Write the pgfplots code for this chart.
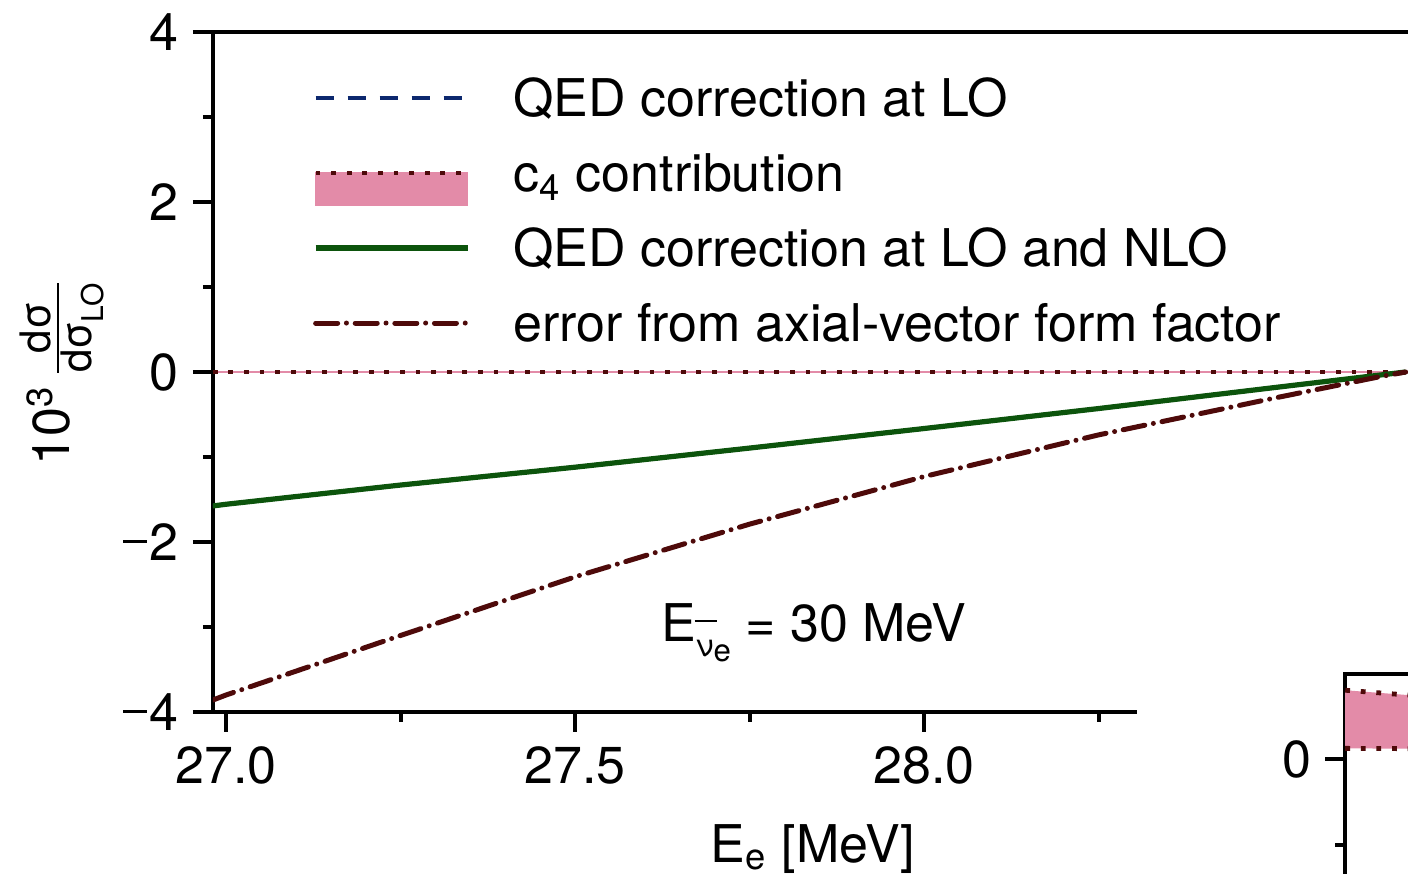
\documentclass[border=0pt]{standalone}
\usepackage{fontspec}
\setmainfont{TeX Gyre Heros}
\usepackage{amsmath}
\usepackage{pgfplots}
\usepackage{pgfplotstable}
\pgfplotsset{compat=1.18}
\definecolor{qedblue}{RGB}{12,40,110}
\definecolor{nlogreen}{RGB}{12,84,12}
\definecolor{c4brown}{RGB}{78,10,10}
\definecolor{c4pink}{RGB}{227,139,168}
\tikzset{
  dotline/.style={c4brown, line width=1.2pt, dash pattern=on 1.2pt off 2.7pt},
  dashline/.style={qedblue, line width=1pt, dash pattern=on 4.5pt off 3.5pt},
  nloline/.style={nlogreen, line width=1.3pt},
  ddline/.style={c4brown, line width=1.25pt, line cap=round, dash pattern=on 5.5pt off 2.2pt on 0pt off 2.2pt},
}
\newcommand{\fs}{\fontsize{13}{15.6}\selectfont}
\newcommand{\fr}{\fontsize{10.5}{12}\selectfont}
\newcommand{\mi}{\raisebox{4.3pt}{\rule{5.8pt}{0.8pt}}\hspace{0.8pt}}

\pgfplotstableread{
x y
26.981 -1.576
27.0 -1.556
27.25 -1.33
27.5 -1.12
27.75 -0.895
28.0 -0.665
28.25 -0.43
28.5 -0.185
28.69 0
}\qedlo
\pgfplotstableread{
x y
26.981 -1.576
27.0 -1.556
27.25 -1.33
27.5 -1.12
27.75 -0.895
28.0 -0.665
28.25 -0.43
28.5 -0.185
28.69 0
}\qednlo
\pgfplotstableread{
x y
26.981 -3.86
27.0 -3.80
27.25 -3.10
27.5 -2.41
27.75 -1.79
28.0 -1.23
28.25 -0.74
28.5 -0.31
28.65 -0.06
28.69 0
}\axerr
\pgfplotstableread{
x y
26.981 0
28.75 0
}\cfour
\pgfplotstableread{
x y
0 0.81
0.5 0.63
1 0.45
}\insetup
\pgfplotstableread{
x y
0 0.13
0.5 0.12
1 0.11
}\insetlow

\begin{document}
\begin{tikzpicture}
\begin{axis}[
  at={(0pt,0pt)}, anchor=south west,
  scale only axis, width=308.69pt, height=170pt,
  xmin=26.981, xmax=28.75, ymin=-4, ymax=4,
  axis line style={line width=1pt, black},
  tick align=outside, xtick pos=lower, ytick pos=left,
  major tick length=5pt, minor tick length=2.5pt,
  every tick/.style={black, line width=1pt},
  xtick={27,27.5,28}, xticklabels={27.0,27.5,28.0},
  minor xtick={27.25,27.75,28.25},
  ytick={-4,-2,0,2,4}, yticklabels={\mi4,\mi2,0,2,4},
  minor ytick={-3,-1,1,3},
  tick label style={font=\fs},
  xlabel={E\textsubscript{e} [MeV]},
  xlabel style={font=\fs, at={(axis description cs:0.4858,-0.2206)}, anchor=base},
  ylabel={10\textsuperscript{3}\hspace{2pt}$\frac{\text{\fr dσ}}{\text{\fr dσ\raisebox{-0.3em}{\fontsize{7.5}{8}\selectfont LO}}}$},
  ylabel style={font=\fs, at={(axis description cs:-0.122,0.5)}, anchor=center},
  legend style={at={(axis cs:27.1246,3.482)}, anchor=north west, draw=none, fill=none,
    inner sep=0pt, outer sep=0pt, row sep=4.75pt,
    /tikz/every odd column/.style={column sep=10.75pt},
    cells={anchor=base west},
    nodes={inner sep=0pt, text height=10pt, text depth=4pt, font=\fs}},
]
\addplot[c4pink, line width=0.5pt, forget plot] table {\cfour};
\addplot[dotline, forget plot] table {\cfour};
\addplot[dashline, forget plot] table {\qedlo};
\addplot[nloline, forget plot] table {\qednlo};
\addplot[ddline, forget plot] table {\axerr};

\addlegendimage{legend image code/.code={\draw[dashline] (0pt,4.5pt) -- (38pt,4.5pt);}}
\addlegendentry{QED correction at LO}
\addlegendimage{legend image code/.code={\fill[c4pink] (0pt,-3.5pt) rectangle (38pt,4.5pt); \draw[dotline] (0pt,4.5pt) -- (38pt,4.5pt);}}
\addlegendentry{c\textsubscript{4} contribution}
\addlegendimage{legend image code/.code={\draw[nloline] (0pt,4.5pt) -- (38pt,4.5pt);}}
\addlegendentry{QED correction at LO and NLO}
\addlegendimage{legend image code/.code={\draw[ddline] (0pt,4.5pt) -- (38pt,4.5pt);}}
\addlegendentry{error from axial-vector form factor}

\node[anchor=base, font=\fs] at (axis cs:27.842,-3.165) {E\raisebox{-3.75pt}{\fontsize{7.8}{9}\selectfont\makebox[0pt][l]{\hspace{-0.3pt}\raisebox{8.6pt}{\rule{5.6pt}{0.4pt}}}ν\raisebox{-1.25pt}{e}} = 30 MeV};
\end{axis}

\fill[white] (231.1pt,-60pt) rectangle (420pt,6pt);

\begin{axis}[
  at={(283.1pt,9.5pt)}, anchor=north west,
  scale only axis, width=100pt, height=80.16pt,
  xmin=0, xmax=1, ymin=-2.75, ymax=1,
  axis line style={line width=1pt, black},
  tick align=outside, ytick pos=left,
  major tick length=5pt, minor tick length=2.5pt,
  every tick/.style={black, line width=1pt},
  xtick=\empty, ytick={0}, yticklabels={0}, minor ytick={-1},
  tick label style={font=\fs},
]
\addplot[fill=c4pink, draw=none] coordinates {(0,0.81) (0.5,0.63) (1,0.45) (1,0.11) (0.5,0.12) (0,0.13)} -- cycle;
\addplot[dotline] table {\insetup};
\addplot[dotline] table {\insetlow};
\end{axis}

\pgfresetboundingbox
\useasboundingbox (-53.2pt,-40.5pt) rectangle (298.8pt,178pt);
\end{tikzpicture}
\end{document}
